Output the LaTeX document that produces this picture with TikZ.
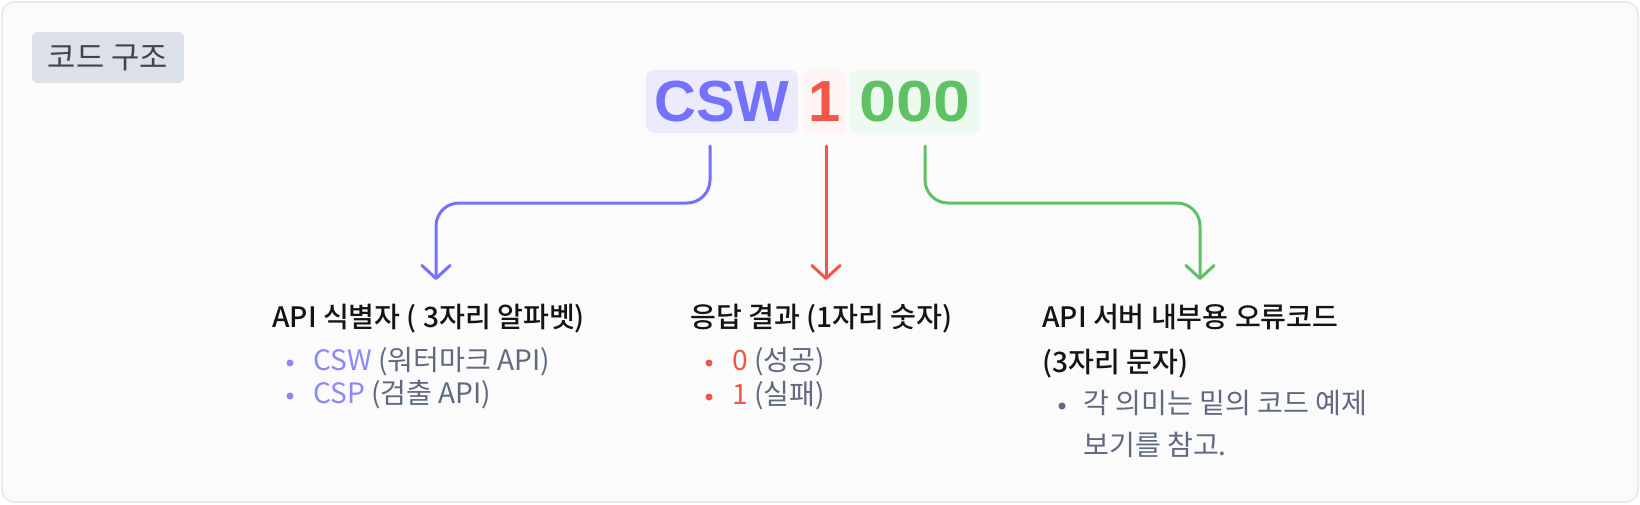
\documentclass[tikz,border=0pt]{standalone}
\usepackage{fontspec}
\setmainfont{Noto Sans CJK KR}
\newfontfamily\krmed{Noto Sans CJK KR Medium}
\newfontfamily\codefont{Liberation Sans}
\usetikzlibrary{arrows.meta}

\definecolor{framefill}{HTML}{FBFBFB}
\definecolor{frameline}{HTML}{ECECEC}
\definecolor{tagfill}{HTML}{DCE1E8}
\definecolor{tagtext}{HTML}{3B4354}
\definecolor{titlec}{HTML}{141414}
\definecolor{grayc}{HTML}{5D6A80}
\definecolor{cswc}{HTML}{7471FA}
\definecolor{cswlight}{HTML}{8B89F8}
\definecolor{cswfill}{HTML}{ECEBFE}
\definecolor{onec}{HTML}{F2554A}
\definecolor{onefill}{HTML}{FFF4F4}
\definecolor{zeroc}{HTML}{5FC164}
\definecolor{zerofill}{HTML}{EEF9EF}

\begin{document}
\begin{tikzpicture}[x=0.02cm, y=-0.02cm,
	tag/.style={rectangle, rounded corners=0.12cm, fill=tagfill, text=tagtext, minimum width=3.04cm, minimum height=1.02cm, inner sep=0pt, font=\fontsize{17.5}{20}\selectfont},
	codebox/.style={rectangle, rounded corners=0.16cm, minimum height=1.26cm, inner sep=0pt, font=\codefont\bfseries\fontsize{33}{36}\selectfont},
	title/.style={anchor=base west, inner sep=0pt, text=titlec, font=\krmed\fontsize{16}{19}\selectfont},
	item/.style={anchor=base west, inner sep=0pt, text=grayc, font=\fontsize{16}{19}\selectfont},
	dot/.style={circle, inner sep=0pt, minimum size=0.14cm},
	link/.style={line width=0.06cm, line cap=round, rounded corners=0.46cm, -{Straight Barb[length=0.26cm, width=0.56cm, round]}}]
	\useasboundingbox (0,0) rectangle (1640,504);
	\draw[fill=framefill, draw=frameline, line width=0.04cm, rounded corners=0.24cm] (2,2) rectangle (1638,502);

	\node[tag] (tag) at (108,57.5) {코드 구조};

	\node[codebox, fill=cswfill, text=cswc, minimum width=3.04cm] (csw) at (722,101.5) {CSW};
	\node[codebox, fill=onefill, text=onec, minimum width=0.86cm] (one) at (824.5,101.5) {1};
	\node[codebox, fill=zerofill, text=zeroc, minimum width=2.6cm] (zeros) at (915,101.5) {\scalebox{1.14}[1]{000}};

	\node[title] (api) at (272,327) {API 식별자 ( 3자리 알파벳)};
	\node[dot, fill=cswlight] (apidot1) at (290,363) {};
	\node[item] (api1) at (313,370) {\textcolor{cswlight}{CSW} (워터마크 API)};
	\node[dot, fill=cswlight] (apidot2) at (290,396) {};
	\node[item] (api2) at (313,403) {\textcolor{cswlight}{CSP} (검출 API)};

	\node[title] (res) at (690,327) {응답 결과 (1자리 숫자)};
	\node[dot, fill=onec] (resdot1) at (709,363) {};
	\node[item] (res1) at (732,370) {\textcolor{onec}{0} (성공)};
	\node[dot, fill=onec] (resdot2) at (709,397) {};
	\node[item] (res2) at (732,404) {\textcolor{onec}{1} (실패)};

	\node[title] (err) at (1042,327) {API 서버 내부용 오류코드};
	\node[title] (err2) at (1042,372) {(3자리 문자)};
	\node[dot, fill=grayc] (errdot) at (1062,406) {};
	\node[item] (err3) at (1083,413) {각 의미는 밑의 코드 예제};
	\node[item] (err4) at (1083,455) {보기를 참고.};

	\coordinate (cswout) at (710,146);
	\coordinate (oneout) at (826,146);
	\coordinate (zerosout) at (925,146);
	\coordinate (apiin) at (436,280);
	\coordinate (resin) at (826,280);
	\coordinate (errin) at (1200,280);

	\draw[link, cswc] (cswout) -- ++(0,57) -| (apiin);
	\draw[link, onec] (oneout) -- (resin);
	\draw[link, zeroc] (zerosout) -- ++(0,57) -| (errin);
\end{tikzpicture}
\end{document}
